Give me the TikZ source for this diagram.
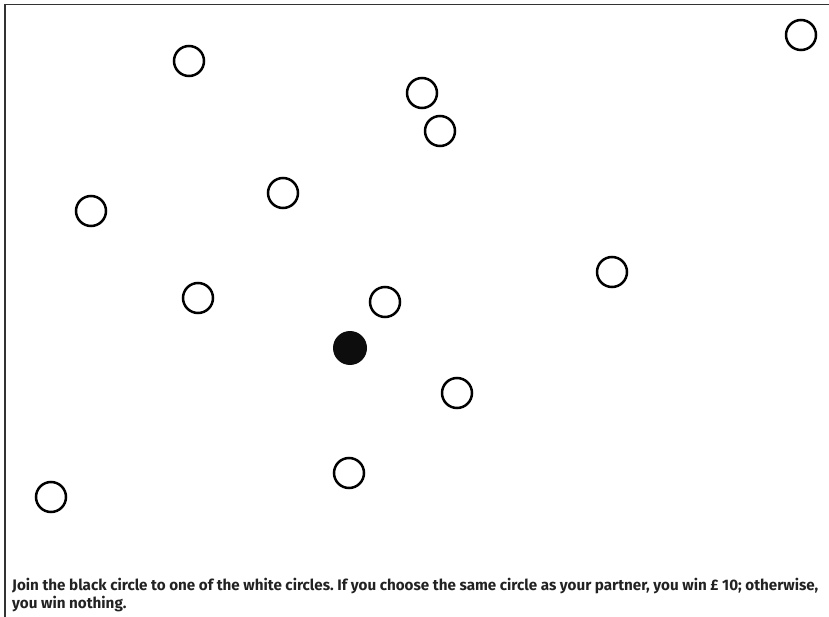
\documentclass[tikz,border=0pt]{standalone}
\usepackage{fontspec}
\setmainfont{Fira Sans}
\usepackage{xcolor}
\usepackage{tikz}
\usetikzlibrary{positioning}

\definecolor{inkgray}{HTML}{222222}

\tikzset{
  whitedot/.style={circle, draw=black, line width=2.5pt, fill=white, minimum size=30pt, inner sep=0pt},
  blackdot/.style={circle, fill=black!95, minimum size=34pt, inner sep=0pt},
  caption/.style={anchor=base west, inner sep=0pt, align=left, text=inkgray, font=\frenchspacing\bfseries\fontsize{15.2}{17.5}\selectfont}
}

\begin{document}
\begin{tikzpicture}[x=1pt,y=-1pt]
  \useasboundingbox (0,0) rectangle (829,617);
  % frame
  \draw[line width=1.2pt, black!80] (829,4.5) -- (5,4.5) -- (5,617);

  % white circles
  \node (w1)  [whitedot] at (189,61) {};
  \node (w2)  [whitedot] at (801,35) {};
  \node (w3)  [whitedot] at (422,93) {};
  \node (w4)  [whitedot] at (440,131) {};
  \node (w5)  [whitedot] at (283,193) {};
  \node (w6)  [whitedot] at (91,211) {};
  \node (w7)  [whitedot] at (612,272) {};
  \node (w8)  [whitedot] at (198,298) {};
  \node (w9)  [whitedot] at (385,302) {};
  \node (w10) [whitedot] at (457,393) {};
  \node (w11) [whitedot] at (349,473) {};
  \node (w12) [whitedot] at (51,497) {};

  % the black one
  \node (blk) [blackdot] at (350,348) {};

  \node (txt) [caption] at (12,608) {Join the black circle to one of the white circles. If you choose the same circle as your partner, you win £ 10; otherwise,\\you win nothing.};
\end{tikzpicture}
\end{document}
